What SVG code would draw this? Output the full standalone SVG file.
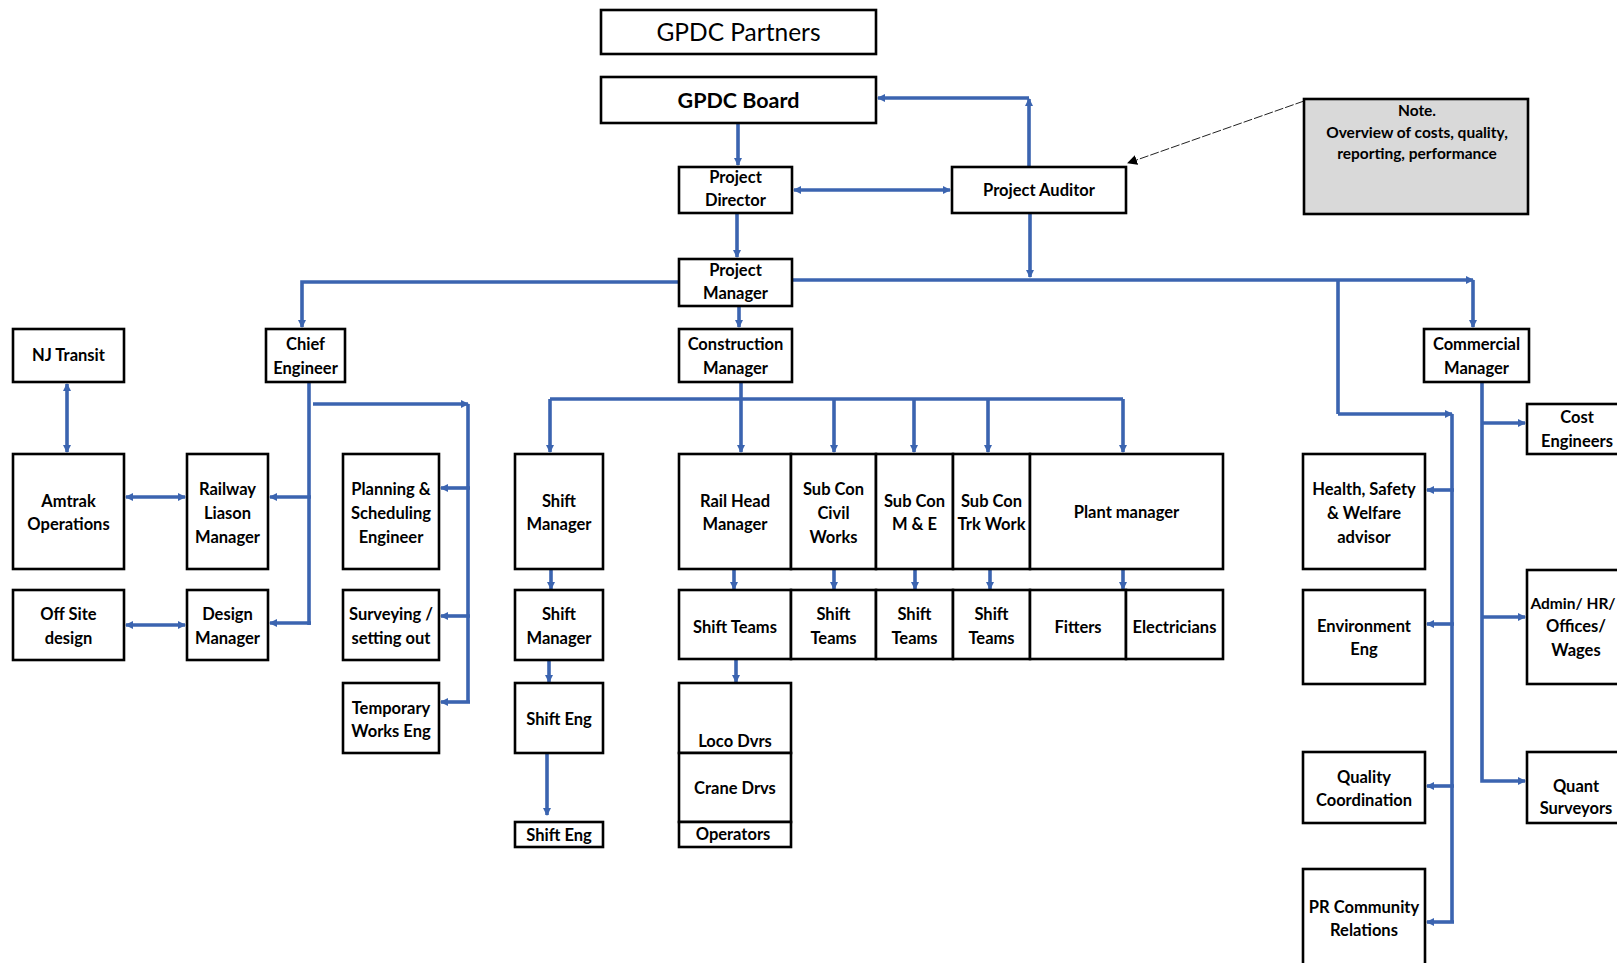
<svg xmlns="http://www.w3.org/2000/svg" width="1617" height="963" viewBox="0 0 1617 963">
<defs>
<marker id="ah" viewBox="0 0 8 8" refX="7" refY="4" markerWidth="8" markerHeight="8" markerUnits="userSpaceOnUse" orient="auto-start-reverse"><path d="M0,0 L8,4 L0,8 z" fill="#3B64B0"/></marker>
<marker id="ahk" viewBox="0 0 10 10" refX="9" refY="5" markerWidth="10" markerHeight="10" markerUnits="userSpaceOnUse" orient="auto"><path d="M0,0 L10,5 L0,10 z" fill="#000"/></marker>
<style>
.b{fill:#fff;stroke:#000;stroke-width:2.6}
.t{font-family:Lato,"Open Sans",sans-serif;font-weight:700;font-size:16.5px;text-anchor:middle;fill:#000}
.n{font-size:15.5px}
.c{fill:none;stroke:#3B64B0;stroke-width:3.6}
.a{marker-end:url(#ah)}
.d{marker-start:url(#ah);marker-end:url(#ah)}
</style>
</defs>
<g id="connectors">
<path class="c a" d="M738,123 V165"/>
<path class="c d" d="M794,190 H950"/>
<path class="c a" d="M1029,167 V99"/>
<path class="c a" d="M1029,98 H878"/>
<path class="c a" d="M1030,213 V277"/>
<path class="c a" d="M737,213 V257"/>
<path class="c a" d="M679,282 H302 V327"/>
<path class="c a" d="M792,280 H1473"/>
<path class="c a" d="M1473,280 V327"/>
<path class="c" d="M1338,280 V414"/>
<path class="c a" d="M1338,414 H1452"/>
<path class="c" d="M1452,414 V922"/>
<path class="c a" d="M1454,490 H1427"/>
<path class="c a" d="M1454,624 H1427"/>
<path class="c a" d="M1454,786 H1427"/>
<path class="c a" d="M1454,922 H1427"/>
<path class="c a" d="M1482,382 V781 H1525"/>
<path class="c a" d="M1482,423 H1525"/>
<path class="c a" d="M1482,617 H1525"/>
<path class="c a" d="M739,295 V327"/>
<path class="c" d="M741,382 V399"/>
<path class="c" d="M550,399 H1123"/>
<path class="c a" d="M550,399 V452"/>
<path class="c a" d="M741,399 V452"/>
<path class="c a" d="M834,399 V452"/>
<path class="c a" d="M914,399 V452"/>
<path class="c a" d="M988,399 V452"/>
<path class="c a" d="M1123,399 V452"/>
<path class="c a" d="M734,569 V589"/>
<path class="c a" d="M834,569 V589"/>
<path class="c a" d="M915,569 V589"/>
<path class="c a" d="M990,569 V589"/>
<path class="c a" d="M1123,569 V589"/>
<path class="c a" d="M736,659 V682"/>
<path class="c a" d="M551,569 V589"/>
<path class="c a" d="M549,660 V682"/>
<path class="c a" d="M547,753 V815"/>
<path class="c" d="M309,382 V625"/>
<path class="c a" d="M311,497 H270"/>
<path class="c a" d="M311,623 H270"/>
<path class="c a" d="M313,404 H468"/>
<path class="c" d="M468,404 V702"/>
<path class="c a" d="M470,488 H441"/>
<path class="c a" d="M470,616 H441"/>
<path class="c a" d="M470,702 H441"/>
<path class="c d" d="M126,497 H185"/>
<path class="c d" d="M126,625 H185"/>
<path class="c d" d="M67,384 V452"/>
<path d="M1304,101 L1128,163" fill="none" stroke="#222" stroke-width="1" stroke-dasharray="9,2" marker-end="url(#ahk)"/>
</g>
<g id="partners"><rect class="b" x="601" y="10" width="275" height="44"/><text class="t" x="738.5" y="41" style="font-weight:400;font-size:24.5px">GPDC Partners</text></g>
<g id="board"><rect class="b" x="601" y="77" width="275" height="46"/><text class="t" x="738.5" y="108" style="font-size:21.5px">GPDC Board</text></g>
<g id="director"><rect class="b" x="679" y="167" width="113" height="46"/><text class="t" x="735.5" y="183">Project</text><text class="t" x="735.5" y="206">Director</text></g>
<g id="auditor"><rect class="b" x="952" y="167" width="174" height="46"/><text class="t" x="1039" y="196">Project Auditor</text></g>
<g id="note"><rect x="1304" y="99" width="224" height="115" fill="#d9d9d9" stroke="#000" stroke-width="2.6"/><text class="t n" x="1417" y="116">Note.</text><text class="t n" x="1417" y="138">Overview of costs, quality,</text><text class="t n" x="1417" y="159">reporting, performance</text></g>
<g id="pm"><rect class="b" x="679" y="259" width="113" height="47"/><text class="t" x="735.5" y="276">Project</text><text class="t" x="735.5" y="299">Manager</text></g>
<g id="cm"><rect class="b" x="679" y="329" width="113" height="53"/><text class="t" x="735.5" y="350">Construction</text><text class="t" x="735.5" y="374">Manager</text></g>
<g id="chief"><rect class="b" x="266" y="329" width="79" height="53"/><text class="t" x="305.5" y="350">Chief</text><text class="t" x="305.5" y="374">Engineer</text></g>
<g id="njtransit"><rect class="b" x="13" y="329" width="111" height="53"/><text class="t" x="68.5" y="361">NJ Transit</text></g>
<g id="commercial"><rect class="b" x="1424" y="329" width="105" height="53"/><text class="t" x="1476.5" y="350">Commercial</text><text class="t" x="1476.5" y="374">Manager</text></g>
<g id="cost"><rect class="b" x="1527" y="404" width="103" height="50"/><text class="t" x="1577" y="423">Cost</text><text class="t" x="1577" y="447">Engineers</text></g>
<g id="amtrak"><rect class="b" x="13" y="454" width="111" height="115"/><text class="t" x="68.5" y="507">Amtrak</text><text class="t" x="68.5" y="530">Operations</text></g>
<g id="railway"><rect class="b" x="187" y="454" width="81" height="115"/><text class="t" x="227.5" y="495">Railway</text><text class="t" x="227.5" y="519">Liason</text><text class="t" x="227.5" y="543">Manager</text></g>
<g id="offsite"><rect class="b" x="13" y="590" width="111" height="70"/><text class="t" x="68.5" y="620">Off Site</text><text class="t" x="68.5" y="644">design</text></g>
<g id="design"><rect class="b" x="187" y="590" width="81" height="70"/><text class="t" x="227.5" y="620">Design</text><text class="t" x="227.5" y="644">Manager</text></g>
<g id="planning"><rect class="b" x="343" y="454" width="96" height="115"/><text class="t" x="391" y="495">Planning &amp;</text><text class="t" x="391" y="519">Scheduling</text><text class="t" x="391" y="543">Engineer</text></g>
<g id="surveying"><rect class="b" x="343" y="590" width="96" height="70"/><text class="t" x="391" y="620">Surveying /</text><text class="t" x="391" y="644">setting out</text></g>
<g id="temporary"><rect class="b" x="343" y="683" width="96" height="70"/><text class="t" x="391" y="714">Temporary</text><text class="t" x="391" y="737">Works Eng</text></g>
<g id="shiftmgr1"><rect class="b" x="515" y="454" width="88" height="115"/><text class="t" x="559" y="507">Shift</text><text class="t" x="559" y="530">Manager</text></g>
<g id="shiftmgr2"><rect class="b" x="515" y="590" width="88" height="70"/><text class="t" x="559" y="620">Shift</text><text class="t" x="559" y="644">Manager</text></g>
<g id="shifteng1"><rect class="b" x="515" y="683" width="88" height="70"/><text class="t" x="559" y="725">Shift Eng</text></g>
<g id="shifteng2"><rect class="b" x="515" y="822" width="88" height="25"/><text class="t" x="559" y="841">Shift Eng</text></g>
<g id="railhead"><rect class="b" x="679" y="454" width="112" height="115"/><text class="t" x="735" y="507">Rail Head</text><text class="t" x="735" y="530">Manager</text></g>
<g id="civil"><rect class="b" x="791" y="454" width="85" height="115"/><text class="t" x="833.5" y="495">Sub Con</text><text class="t" x="833.5" y="519">Civil</text><text class="t" x="833.5" y="543">Works</text></g>
<g id="me"><rect class="b" x="876" y="454" width="77" height="115"/><text class="t" x="914.5" y="507">Sub Con</text><text class="t" x="914.5" y="530">M &amp; E</text></g>
<g id="trk"><rect class="b" x="953" y="454" width="77" height="115"/><text class="t" x="991.5" y="507">Sub Con</text><text class="t" x="991.5" y="530">Trk Work</text></g>
<g id="plant"><rect class="b" x="1030" y="454" width="193" height="115"/><text class="t" x="1126.5" y="518">Plant manager</text></g>
<g id="shiftteams1"><rect class="b" x="679" y="590" width="112" height="69"/><text class="t" x="735" y="633">Shift Teams</text></g>
<g id="shiftteams2"><rect class="b" x="791" y="590" width="85" height="69"/><text class="t" x="833.5" y="620">Shift</text><text class="t" x="833.5" y="644">Teams</text></g>
<g id="shiftteams3"><rect class="b" x="876" y="590" width="77" height="69"/><text class="t" x="914.5" y="620">Shift</text><text class="t" x="914.5" y="644">Teams</text></g>
<g id="shiftteams4"><rect class="b" x="953" y="590" width="77" height="69"/><text class="t" x="991.5" y="620">Shift</text><text class="t" x="991.5" y="644">Teams</text></g>
<g id="fitters"><rect class="b" x="1030" y="590" width="96" height="69"/><text class="t" x="1078" y="633">Fitters</text></g>
<g id="electricians"><rect class="b" x="1126" y="590" width="97" height="69"/><text class="t" x="1174.5" y="633">Electricians</text></g>
<g id="loco"><rect class="b" x="679" y="683" width="112" height="70"/><text class="t" x="735" y="747">Loco Dvrs</text></g>
<g id="crane"><rect class="b" x="679" y="753" width="112" height="69"/><text class="t" x="735" y="794">Crane Drvs</text></g>
<g id="operators"><rect class="b" x="679" y="822" width="112" height="25"/><text class="t" x="733" y="840">Operators</text></g>
<g id="health"><rect class="b" x="1303" y="454" width="122" height="115"/><text class="t" x="1364" y="495">Health, Safety</text><text class="t" x="1364" y="519">&amp; Welfare</text><text class="t" x="1364" y="543">advisor</text></g>
<g id="environment"><rect class="b" x="1303" y="590" width="122" height="94"/><text class="t" x="1364" y="632">Environment</text><text class="t" x="1364" y="655">Eng</text></g>
<g id="admin"><rect class="b" x="1527" y="570" width="103" height="114"/><text class="t" x="1573" y="609" style="font-size:15.5px">Admin/ HR/</text><text class="t" x="1576" y="632">Offices/</text><text class="t" x="1576" y="656">Wages</text></g>
<g id="quality"><rect class="b" x="1303" y="752" width="122" height="71"/><text class="t" x="1364" y="783">Quality</text><text class="t" x="1364" y="806">Coordination</text></g>
<g id="quant"><rect class="b" x="1527" y="752" width="103" height="71"/><text class="t" x="1576" y="792">Quant</text><text class="t" x="1576" y="814">Surveyors</text></g>
<g id="pr"><rect class="b" x="1303" y="869" width="122" height="110"/><text class="t" x="1364" y="913">PR Community</text><text class="t" x="1364" y="936">Relations</text></g>
</svg>
